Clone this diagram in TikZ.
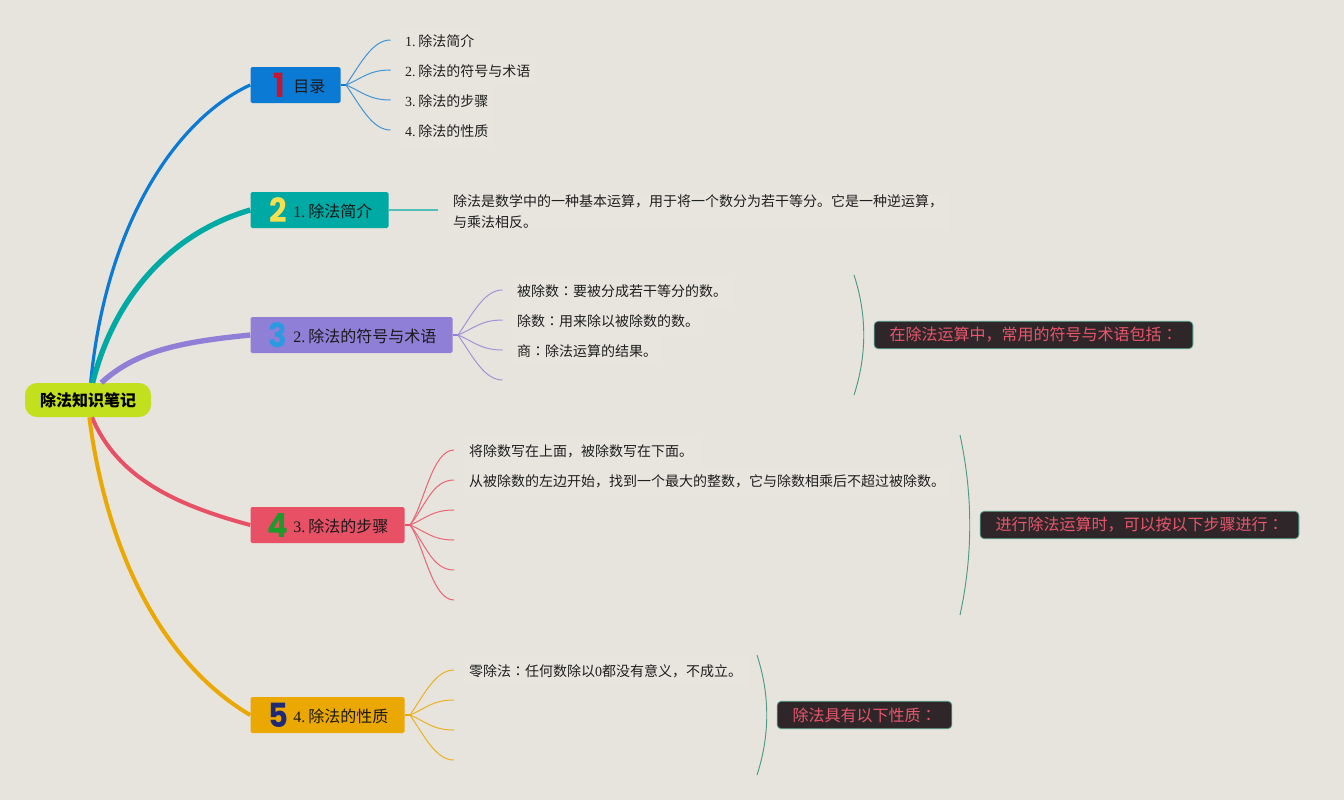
\documentclass[tikz,border=0pt]{standalone}
\usepackage{fontspec}
\usepackage{tikz}
\usepackage{color}
\setmainfont{Liberation Serif}
\newfontfamily\cjk{Noto Sans CJK SC}
\newfontfamily\cjkc{Noto Sans CJK TC}
\newfontfamily\numfont[FakeStretch=0.92]{Poppins}
\newcommand{\zhcolon}{{\cjkc ：}}
\definecolor{pagebg}{HTML}{E6E4DC}
\definecolor{rowbg}{HTML}{E7E5DE}
\definecolor{rootc}{HTML}{C3E01F}
\definecolor{onec}{HTML}{0A7AD4}
\definecolor{twoc}{HTML}{00AAA4}
\definecolor{threec}{HTML}{907FD6}
\definecolor{fourc}{HTML}{E85066}
\definecolor{fivec}{HTML}{EBA802}
\definecolor{sumbg}{HTML}{2F2629}
\definecolor{sumtext}{HTML}{E9566C}
\definecolor{linec}{HTML}{4E9A87}
\begin{document}
\begin{tikzpicture}[x=0.75pt,y=-0.75pt,
  root/.style={fill=rootc,rounded corners=9pt,minimum width=94.5pt,minimum height=25.5pt,inner sep=0pt,font=\fontsize{12}{14}\cjk\bfseries},
  branch/.style={rounded corners=1.2pt,minimum height=27pt,inner sep=0pt},
  num/.style={inner sep=0pt,font=\fontsize{25}{25}\numfont\bfseries},
  title/.style={anchor=west,inner sep=0pt,text=black!90,font=\fontsize{12}{14}\selectfont},
  leaf/.style={anchor=west,fill=rowbg,text=black!88,inner xsep=4pt,inner ysep=0pt,minimum height=22pt,font=\fontsize{10.5}{15.75}\selectfont},
  sumbox/.style={draw=linec,line width=0.6pt,fill=sumbg,text=sumtext,rounded corners=3pt,minimum height=20.5pt,inner sep=0pt,font=\fontsize{12}{14}\cjk},
  fan/.style={line width=0.75pt},
  brace/.style={draw=linec,line width=0.7pt}]
\fill[pagebg] (0,0) rectangle (1344,800);
\useasboundingbox (0,0) rectangle (1344,800);

\node[root] (root) at (88,400) {除法知识笔记};

\node[branch,fill=onec,minimum width=67.5pt] (mulu) at (295.5,85) {};
\node[branch,fill=twoc,minimum width=103.5pt] (jianjie) at (319.5,210) {};
\node[branch,fill=threec,minimum width=151.5pt] (fuhao) at (351.5,335) {};
\node[branch,fill=fourc,minimum width=115.5pt] (buzhou) at (327.5,525) {};
\node[branch,fill=fivec,minimum width=115.5pt] (xingzhi) at (327.5,715) {};

\node[num,text={rgb,255:red,200;green,21;blue,47}] (numa) at (279,85) {1};
\node[num,text={rgb,255:red,246;green,224;blue,80}] (numb) at (278,210) {2};
\node[num,text={rgb,255:red,40;green,155;blue,225}] (numc) at (278,335) {3};
\node[num,text={rgb,255:red,28;green,154;blue,42}] (numd) at (278,525) {4};
\node[num,text={rgb,255:red,30;green,42;blue,120}] (nume) at (278,715) {5};

\node[title] (mulut) at (293,87) {\cjk 目录};
\node[title] (jianjiet) at (293,211) {1.\hspace{2.25pt}{\cjk 除法简介}};
\node[title] (fuhaot) at (293,336) {2.\hspace{2.25pt}{\cjk 除法的符号与术语}};
\node[title] (buzhout) at (293,526) {3.\hspace{2.25pt}{\cjk 除法的步骤}};
\node[title] (xingzhit) at (293,716) {4.\hspace{2.25pt}{\cjk 除法的性质}};

\draw[onec,line width=2.4pt] ([xshift=2pt]root.north) .. controls +(16,-165) and +(-70,32) .. (mulu.west);
\draw[twoc,line width=4pt] ([xshift=3.5pt]root.north) .. controls +(20,-80) and +(-85,25) .. (jianjie.west);
\draw[threec,line width=4pt] ([xshift=10pt]root.north) .. controls +(35,-32) and +(-70,7) .. (fuhao.west);
\draw[fourc,line width=3pt] ([xshift=3pt]root.south) .. controls +(25,60) and +(-75,-20) .. (buzhou.west);
\draw[fivec,line width=3pt] ([xshift=1pt]root.south) .. controls +(18,140) and +(-85,-50) .. (xingzhi.west);

\coordinate (mulujn) at (346,85);
\coordinate (fuhaojn) at (458,335);
\coordinate (buzhoujn) at (410,525);
\coordinate (xingzhijn) at (410,715);
\coordinate (jianjieend) at (438,210);

\draw[onec,line width=1.2pt] (mulu.east) -- (mulujn);
\draw[twoc!65!pagebg,line width=1.2pt] (jianjie.east) -- (jianjieend);
\draw[threec,line width=1.2pt] (fuhao.east) -- (fuhaojn);
\draw[fourc,line width=1.2pt] (buzhou.east) -- (buzhoujn);
\draw[fivec,line width=1.2pt] (xingzhi.east) -- (xingzhijn);

\coordinate (mulua) at (390.5,40);
\coordinate (mulub) at (390.5,70);
\coordinate (muluc) at (390.5,100);
\coordinate (mulud) at (390.5,130);
\draw[fan,onec!75!pagebg] (mulujn) .. controls +(15,-22) and +(-18,0) .. (mulua);
\draw[fan,onec!75!pagebg] (mulujn) .. controls +(15,-6) and +(-22,0) .. (mulub);
\draw[fan,onec!75!pagebg] (mulujn) .. controls +(15,6) and +(-22,0) .. (muluc);
\draw[fan,onec!75!pagebg] (mulujn) .. controls +(15,22) and +(-18,0) .. (mulud);

\coordinate (fuhaoa) at (502.5,290);
\coordinate (fuhaob) at (502.5,320);
\coordinate (fuhaoc) at (502.5,350);
\coordinate (fuhaod) at (502.5,380);
\draw[fan,threec!80!pagebg] (fuhaojn) .. controls +(15,-22) and +(-18,0) .. (fuhaoa);
\draw[fan,threec!80!pagebg] (fuhaojn) .. controls +(15,-6) and +(-22,0) .. (fuhaob);
\draw[fan,threec!80!pagebg] (fuhaojn) .. controls +(15,6) and +(-22,0) .. (fuhaoc);
\draw[fan,threec!80!pagebg] (fuhaojn) .. controls +(15,22) and +(-18,0) .. (fuhaod);

\coordinate (buzhoua) at (454,450);
\coordinate (buzhoub) at (454,480);
\coordinate (buzhouc) at (454,510);
\coordinate (buzhoud) at (454,540);
\coordinate (buzhoue) at (454,570);
\coordinate (buzhouf) at (454,600);
\draw[fan,fourc!85!pagebg] (buzhoujn) .. controls +(14,-20) and +(-22,0) .. (buzhoua);
\draw[fan,fourc!85!pagebg] (buzhoujn) .. controls +(15,-18) and +(-22,0) .. (buzhoub);
\draw[fan,fourc!85!pagebg] (buzhoujn) .. controls +(15,-6) and +(-22,0) .. (buzhouc);
\draw[fan,fourc!85!pagebg] (buzhoujn) .. controls +(15,6) and +(-22,0) .. (buzhoud);
\draw[fan,fourc!85!pagebg] (buzhoujn) .. controls +(15,18) and +(-22,0) .. (buzhoue);
\draw[fan,fourc!85!pagebg] (buzhoujn) .. controls +(14,20) and +(-22,0) .. (buzhouf);

\coordinate (xingzhia) at (454,670);
\coordinate (xingzhib) at (454,700);
\coordinate (xingzhic) at (454,730);
\coordinate (xingzhid) at (454,760);
\draw[fan,fivec!85!pagebg] (xingzhijn) .. controls +(15,-22) and +(-18,0) .. (xingzhia);
\draw[fan,fivec!85!pagebg] (xingzhijn) .. controls +(15,-6) and +(-22,0) .. (xingzhib);
\draw[fan,fivec!85!pagebg] (xingzhijn) .. controls +(15,6) and +(-22,0) .. (xingzhic);
\draw[fan,fivec!85!pagebg] (xingzhijn) .. controls +(15,22) and +(-18,0) .. (xingzhid);

\node[leaf] (mululeafa) at (399.5,41) {1.\hspace{2pt}{\cjk 除法简介}};
\node[leaf] (mululeafb) at (399.5,71) {2.\hspace{2pt}{\cjk 除法的符号与术语}};
\node[leaf] (mululeafc) at (399.5,101) {3.\hspace{2pt}{\cjk 除法的步骤}};
\node[leaf] (mululeafd) at (399.5,131) {4.\hspace{2pt}{\cjk 除法的性质}};

\node[leaf,align=left] (jianjieleaf) at (447.5,211.5) {\cjk 除法是数学中的一种基本运算，用于将一个数分为若干等分。它是一种逆运算，\\\cjk 与乘法相反。};

\node[leaf] (fuhaoleafa) at (511.5,291) {\cjk 被除数\zhcolon 要被分成若干等分的数。};
\node[leaf] (fuhaoleafb) at (511.5,321) {\cjk 除数\zhcolon 用来除以被除数的数。};
\node[leaf] (fuhaoleafc) at (511.5,351) {\cjk 商\zhcolon 除法运算的结果。};

\node[leaf] (buzhouleafa) at (463.5,451) {\cjk 将除数写在上面，被除数写在下面。};
\node[leaf] (buzhouleafb) at (463.5,481) {\cjk 从被除数的左边开始，找到一个最大的整数，它与除数相乘后不超过被除数。};

\node[leaf] (xingzhileaf) at (463.5,671) {{\cjk 零除法\zhcolon 任何数除以}0{\cjk 都没有意义，不成立。}};

\coordinate (bracea) at (854,275);
\coordinate (braceb) at (854,395);
\coordinate (bracec) at (960,435);
\coordinate (braced) at (960,615);
\coordinate (bracee) at (757,655);
\coordinate (bracef) at (757,775);
\draw[brace] (bracea) .. controls +(13,40) and +(13,-40) .. (braceb);
\draw[brace] (bracec) .. controls +(13,60) and +(13,-60) .. (braced);
\draw[brace] (bracee) .. controls +(13,40) and +(13,-40) .. (bracef);

\node[sumbox,minimum width=239pt] (fuhaosum) at (1033.5,335) {在除法运算中，常用的符号与术语包括\zhcolon};
\node[sumbox,minimum width=239pt] (buzhousum) at (1139.5,525) {进行除法运算时，可以按以下步骤进行\zhcolon};
\node[sumbox,minimum width=131pt] (xingzhisum) at (864.5,715) {除法具有以下性质\zhcolon};
\end{tikzpicture}
\end{document}
